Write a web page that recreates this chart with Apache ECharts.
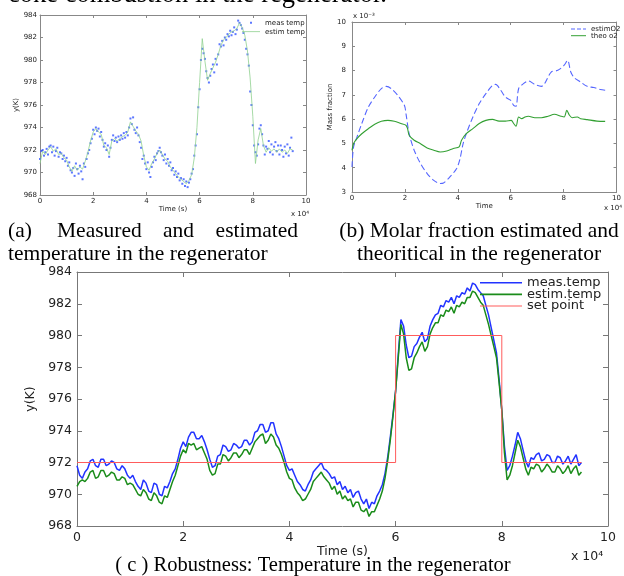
<!DOCTYPE html>
<html><head><meta charset="utf-8">
<script src="https://cdn.jsdelivr.net/npm/echarts@6/dist/echarts.min.js"></script>
<style>html,body{margin:0;padding:0;background:#fff}#c{width:624px;height:576px}</style>
</head><body><div id="c"></div>
<script>
// ---------- DATA ----------
// time in units of 10^4 s
const t10 = [0,0.1,0.2,0.3,0.4,0.5,0.6,0.7,0.8,0.9,1,1.1,1.2,1.3,1.4,1.5,1.6,1.7,1.8,1.9,2,2.1,2.2,2.3,2.4,2.5,2.6,2.7,2.8,2.9,3,3.1,3.2,3.3,3.4,3.5,3.6,3.7,3.8,3.9,4,4.1,4.2,4.3,4.4,4.5,4.6,4.7,4.8,4.9,5,5.1,5.2,5.3,5.4,5.5,5.6,5.7,5.8,5.9,6,6.1,6.2,6.3,6.4,6.5,6.6,6.7,6.8,6.9,7,7.1,7.2,7.3,7.4,7.5,7.6,7.7,7.8,7.9,8,8.1,8.2,8.3,8.4,8.5,8.6,8.7,8.8,8.9,9,9.1,9.2,9.3,9.4,9.5];
const t05 = [0,0.05,0.1,0.15,0.2,0.25,0.3,0.35,0.4,0.45,0.5,0.55,0.6,0.65,0.7,0.75,0.8,0.85,0.9,0.95,
1,1.05,1.1,1.15,1.2,1.25,1.3,1.35,1.4,1.45,1.5,1.55,1.6,1.65,1.7,1.75,1.8,1.85,1.9,1.95,
2,2.05,2.1,2.15,2.2,2.25,2.3,2.35,2.4,2.45,2.5,2.55,2.6,2.65,2.7,2.75,2.8,2.85,2.9,2.95,
3,3.05,3.1,3.15,3.2,3.25,3.3,3.35,3.4,3.45,3.5,3.55,3.6,3.65,3.7,3.75,3.8,3.85,3.9,3.95,
4,4.05,4.1,4.15,4.2,4.25,4.3,4.35,4.4,4.45,4.5,4.55,4.6,4.65,4.7,4.75,4.8,4.85,4.9,4.95,
5,5.05,5.1,5.15,5.2,5.25,5.3,5.35,5.4,5.45,5.5,5.55,5.6,5.65,5.7,5.75,5.8,5.85,5.9,5.95,
6,6.05,6.1,6.15,6.2,6.25,6.3,6.35,6.4,6.45,6.5,6.55,6.6,6.65,6.7,6.75,6.8,6.85,6.9,6.95,
7,7.05,7.1,7.15,7.2,7.25,7.3,7.35,7.4,7.45,7.5,7.55,7.6,7.65,7.7,7.75,7.8,7.85,7.9,7.95,
8,8.05,8.1,8.15,8.2,8.25,8.3,8.35,8.4,8.45,8.5,8.55,8.6,8.65,8.7,8.75,8.8,8.85,8.9,8.95,
9,9.05,9.1,9.15,9.2,9.25,9.3,9.35,9.4,9.45,9.5];

// (a) measured (dots) and estimated temperature
const measA = [971.2,971.9,972.0,971.5,971.8,972.1,971.6,972.3,972.4,971.8,972.3,971.5,971.9,972.2,971.4,971.8,971.7,971.2,971.5,971.0,
971.3,970.6,970.9,970.2,970.0,970.4,969.7,970.8,970.3,969.9,970.6,970.1,969.4,970.8,970.5,971.2,971.7,972.0,972.6,973.0,
973.8,973.4,974.0,973.7,973.9,973.2,973.6,972.9,972.3,972.6,972.0,972.4,971.4,972.2,972.9,973.3,972.8,973.1,972.7,973.2,
972.9,973.3,973.0,973.5,973.1,973.6,973.3,974.0,974.8,974.3,974.9,973.8,973.5,974.0,973.3,972.7,972.2,971.2,971.5,970.8,
970.3,970.9,970.0,969.6,970.5,970.9,971.4,971.1,971.7,971.9,972.2,971.8,971.5,971.1,971.6,970.8,971.2,970.6,970.9,970.2,
970.4,969.8,970.1,969.6,969.9,969.3,969.5,969.0,969.4,968.8,969.2,968.7,969.1,969.4,969.9,970.3,971.5,972.4,973.4,975.8,
977.4,980.0,981.0,980.6,980.1,979.0,978.4,978.0,978.6,979.2,979.6,978.9,980.1,979.6,980.5,981.4,981.2,981.7,981.3,982.0,
981.8,982.3,982.1,982.6,982.2,982.5,982.9,982.3,982.7,983.5,983.3,983.1,982.8,982.4,981.8,981.0,980.5,979.5,977.2,976.0,
974.2,972.4,971.8,971.5,972.5,973.9,974.2,973.4,972.4,971.6,972.3,972.1,972.8,971.8,972.5,971.6,972.3,972.7,971.9,972.4,
971.6,972.4,972.0,971.4,972.3,971.7,972.5,971.5,972.2,973.1,971.9];
const estimA = [970.8,971.9,971.6,972.0,972.3,971.9,972.1,971.6,971.7,971.3,
971.1,970.5,970.1,970.6,970.2,970.5,970.3,971.0,971.8,972.8,
973.6,973.9,973.6,973.4,972.4,972.2,971.6,972.8,973.0,972.8,
973.0,973.2,973.3,973.6,974.5,974.1,973.7,973.4,972.8,971.5,
970.5,970.2,970.8,971.2,971.7,972.0,971.6,971.2,971.0,970.5,
970.2,969.9,969.6,969.4,969.2,969.0,969.3,969.8,971.3,974.0,
978.0,981.9,979.9,978.2,978.8,979.3,979.8,980.5,981.3,981.8,
982.0,982.3,982.5,982.6,982.8,983.3,982.9,982.2,980.8,978.4,
975.0,970.8,972.9,973.9,972.4,971.8,972.2,971.9,972.1,971.8,
972.1,971.8,972.0,971.7,972.1,972.0];

// (b) mass fraction (x 10^-3)
const tEstO2 = [0,0.06,0.19,0.37,0.62,0.86,1.11,1.3,1.48,1.73,1.98,2.04,2.16,2.35,2.59,2.84,3.09,3.33,3.46,3.7,3.95,4.07,4.2,4.32,4.57,4.81,5.06,5.31,5.43,5.62,5.8,5.99,6.11,6.2,6.3,6.48,6.67,6.91,7.16,7.28,7.53,7.78,8.02,8.15,8.27,8.4,8.64,8.89,9.14,9.38,9.57];
const estimO2 = [4.03,4.86,5.27,5.82,6.5,6.91,7.26,7.35,7.26,6.98,6.57,6.23,5.40,4.72,4.17,3.76,3.48,3.35,3.37,3.62,3.96,4.31,4.99,5.40,6.09,6.64,7.05,7.39,7.43,7.19,6.91,6.78,6.57,6.53,7.26,7.46,7.57,7.43,7.35,7.46,7.94,8.01,8.22,8.42,7.94,7.71,7.53,7.35,7.30,7.22,7.19];
const tTheoO2 = [0,0.06,0.19,0.37,0.62,0.86,1.11,1.36,1.6,1.85,2.04,2.1,2.16,2.35,2.59,2.84,3.09,3.33,3.58,3.83,4.05,4.14,4.32,4.57,4.81,5.06,5.31,5.56,5.8,6.02,6.11,6.2,6.3,6.42,6.54,6.67,6.91,7.16,7.41,7.65,7.9,8.02,8.12,8.22,8.33,8.52,8.64,8.89,9.26,9.57];
const theoO2 = [4.72,5.0,5.2,5.40,5.61,5.79,5.91,5.95,5.91,5.82,5.75,5.61,5.34,5.13,4.99,4.81,4.72,4.65,4.69,4.79,4.86,5.13,5.40,5.61,5.82,5.95,5.99,5.92,5.92,5.95,5.82,5.71,6.09,6.02,6.09,6.12,6.06,6.06,6.12,6.20,6.12,6.09,6.36,6.16,6.06,6.09,6.02,5.98,5.92,5.91];

// (c) robustness (sampled every 0.05 x 10^4 s)
const measC = [971.8,971.2,971.0,971.4,971.6,972.1,972.2,971.8,971.7,972.2,972.2,971.8,971.9,972.1,972.0,971.6,971.5,971.8,971.6,971.2,
971.0,971.2,970.8,970.5,970.3,970.9,970.7,970.2,970.1,970.7,970.6,970.0,969.9,970.5,970.4,970.8,971.3,971.6,972.2,972.9,
973.3,973.0,973.6,973.9,973.9,973.5,973.5,973.7,973.3,972.8,972.2,971.7,971.8,972.4,972.5,973.1,973.0,972.7,972.8,973.2,
973.1,972.9,973.0,973.4,973.4,973.1,973.3,973.9,974.0,974.4,974.4,973.9,974.0,974.5,974.5,973.8,973.5,973.0,972.4,971.8,
971.5,971.6,971.2,970.8,970.6,970.3,970.2,970.6,970.9,971.4,971.6,971.8,972.0,971.6,971.5,971.3,971.0,971.1,970.6,970.8,
970.3,970.5,970.1,970.3,969.8,970.1,970.2,969.7,969.4,969.7,969.1,969.5,969.4,969.9,970.2,970.6,971.3,972.3,973.6,975.0,
976.5,978.8,981.0,980.6,979.4,978.6,978.7,979.3,979.5,979.9,980.2,979.6,979.8,980.6,981.0,981.3,981.4,981.9,981.8,982.2,
982.1,982.4,982.0,982.5,982.4,982.7,982.6,983.0,982.8,983.3,983.2,982.9,982.7,982.5,981.9,981.3,980.5,979.7,978.9,977.2,
975.3,973.0,971.5,971.8,972.4,973.1,973.9,973.5,972.8,972.1,971.7,972.3,972.2,972.5,972.6,972.1,972.2,972.5,972.4,972.0,
972.0,972.4,972.3,971.9,972.1,972.4,971.9,972.2,972.5,971.8,972.0];
const estimC = [970.5,970.8,970.9,970.8,971.0,971.4,971.5,971.0,971.1,971.5,971.5,971.1,971.2,971.4,971.3,970.9,970.9,971.1,971.0,970.6,
970.7,970.6,970.3,970.0,969.9,970.3,970.1,969.7,969.6,970.1,969.9,969.5,969.4,969.9,969.8,970.3,970.8,971.2,971.8,972.4,
972.8,972.6,973.2,973.1,973.2,972.8,972.9,973.0,972.6,972.2,971.5,971.2,971.3,971.9,971.9,972.5,972.4,972.1,972.3,972.6,
972.6,972.3,972.5,972.8,972.8,972.5,972.9,973.3,973.5,973.7,973.8,973.2,973.4,973.8,973.6,973.1,972.9,972.5,972.0,971.4,
971.0,970.9,970.4,970.1,969.9,969.6,969.7,970.0,970.3,970.8,971.0,971.2,971.4,971.1,970.9,970.7,970.3,970.5,970.0,970.2,
969.7,969.9,969.6,969.7,969.2,969.5,969.5,969.0,968.9,969.1,968.6,968.9,968.9,969.3,969.7,970.2,971.0,972.1,973.4,974.9,
976.5,978.6,980.7,980.1,978.6,977.8,977.9,978.6,978.9,979.3,979.6,979.0,979.3,980.1,980.5,980.8,980.8,981.3,981.2,981.6,
981.5,981.8,981.4,981.9,981.8,982.1,982.0,982.4,982.4,982.8,982.7,982.4,982.1,981.9,981.3,980.7,980.0,979.3,978.6,977.0,
975.3,972.6,970.9,971.2,971.8,972.6,973.4,973.0,972.3,971.6,971.2,971.7,971.6,971.9,971.8,971.4,971.6,971.9,971.7,971.4,
971.4,971.8,971.6,971.3,971.5,971.8,971.3,971.6,971.8,971.2,971.4];
const setT = [0,6,6,8,8,9.5];
const setV = [972,972,980,980,972,972];

// ---------- CHART ----------
const SANS = 'DejaVu Sans';
const SERIF = '"Liberation Serif","Times New Roman",serif';
const zip = (a,b)=>a.map((v,i)=>[v,b[i]]);

function ax(gi, pos, min, max, interval, o){
  o = o || {};
  const main = pos==='bottom'||pos==='left';
  const a = {
    type:'value', gridIndex:gi, position:pos, min:min, max:max, interval:interval,
    axisLine:{show:true, onZero:false, lineStyle:{color:o.lc||'#888', width:1}},
    axisTick:{show:true, inside:true, length:o.tl||3, lineStyle:{color:o.lc||'#888'}},
    splitLine:{show:false},
    axisLabel:{show:main, fontFamily:SANS, fontSize:o.fs||7, color:'#222', margin:o.m||3,
      showMinLabel:true, showMaxLabel:true},
  };
  if(main && o.name){
    a.name=o.name; a.nameLocation='middle'; a.nameGap=o.ng;
    a.nameTextStyle={fontFamily:SANS, fontSize:o.nfs||o.fs||7, color:'#222'};
  }
  return a;
}

const chart = echarts.init(document.getElementById('c'), null, {renderer:'canvas'});
const option = {
  animation:false,
  backgroundColor:'#ffffff',
  grid:[
    {left:40, top:15, width:266, height:180},
    {left:352, top:22, width:270, height:170},
    {left:77, top:272, width:531, height:254}
  ],
  xAxis:[
    ax(0,'bottom',0,10,2,{name:'Time (s)', ng:10}),
    ax(0,'top',0,10,2),
    ax(1,'bottom',0,10,2,{name:'Time', ng:8}),
    ax(1,'top',0,10,2),
    ax(2,'bottom',0,10,2,{fs:12.5, m:5, tl:5, lc:'#777', name:'Time (s)', ng:17}),
    ax(2,'top',0,10,2,{tl:5, lc:'#777'})
  ],
  yAxis:[
    ax(0,'left',968,984,2,{name:'y(K)', ng:18}),
    ax(0,'right',968,984,2),
    ax(1,'left',3,10,1,{name:'Mass fraction', ng:13, m:6}),
    ax(1,'right',3,10,1),
    ax(2,'left',968,984,2,{fs:12.5, m:5, tl:5, lc:'#777', name:'y(K)', ng:37}),
    ax(2,'right',968,984,2,{tl:5, lc:'#777'})
  ],
  legend:[
    {orient:'vertical', left:242, top:18.7, itemWidth:18, itemHeight:8, itemGap:1, padding:0,
     textStyle:{fontFamily:SANS, fontSize:7, color:'#222'},
     data:[{name:'meas temp', icon:'path://M0,0M18,8M8,3h2v2h-2z'},
           {name:'estim temp', icon:'path://M0,0M18,8M0,3.6h18v0.8h-18z'}]},
    {orient:'vertical', left:571, top:25.5, itemWidth:15, itemHeight:6.7, itemGap:-0.3, padding:0,
     textStyle:{fontFamily:SANS, fontSize:7, color:'#222'},
     data:[{name:'estimO2', icon:'path://M0,0M15,6.7M0,2.85h4v1h-4zM6,2.85h4v1h-4zM12,2.85h3v1h-3z'},
           {name:'theo o2', icon:'path://M0,0M15,6.7M0,2.85h15v1h-15z'}]},
    {orient:'vertical', left:480, top:276.2, itemWidth:42, itemHeight:10, itemGap:-1.3, padding:0,
     textStyle:{fontFamily:SANS, fontSize:13, color:'#222'},
     data:[{name:'meas.temp', icon:'path://M0,0M42,10M0,4.2h42v1.6h-42z'},
           {name:'estim.temp', icon:'path://M0,0M42,10M0,4.2h42v1.6h-42z'},
           {name:'set point', icon:'path://M0,0M42,10M0,4.5h42v1h-42z'}]}
  ],
  series:[
    {name:'estim temp', type:'line', xAxisIndex:0, yAxisIndex:0, symbol:'none',
     lineStyle:{color:'#8fd08f', width:0.8}, itemStyle:{color:'#8fd08f'}, data:zip(t10, estimA)},
    {name:'meas temp', type:'scatter', xAxisIndex:0, yAxisIndex:0, symbol:'rect', symbolSize:2,
     itemStyle:{color:'#3355ff'}, data:zip(t05, measA)},
    {name:'estimO2', type:'line', xAxisIndex:2, yAxisIndex:2, symbol:'none', smooth:0.3,
     lineStyle:{color:'#5566ff', width:1.1, type:[6,3]}, itemStyle:{color:'#5566ff'}, data:zip(tEstO2, estimO2)},
    {name:'theo o2', type:'line', xAxisIndex:2, yAxisIndex:2, symbol:'none', smooth:0.3,
     lineStyle:{color:'#33a033', width:1.1}, itemStyle:{color:'#33a033'}, data:zip(tTheoO2, theoO2)},
    {name:'meas.temp', type:'line', xAxisIndex:4, yAxisIndex:4, symbol:'none',
     lineStyle:{color:'#2233ff', width:1.5}, itemStyle:{color:'#2233ff'}, data:zip(t05, measC)},
    {name:'estim.temp', type:'line', xAxisIndex:4, yAxisIndex:4, symbol:'none',
     lineStyle:{color:'#1a8c1a', width:1.5}, itemStyle:{color:'#1a8c1a'}, data:zip(t05, estimC)},
    {name:'set point', type:'line', xAxisIndex:4, yAxisIndex:4, symbol:'none',
     lineStyle:{color:'#ff5c5c', width:1}, itemStyle:{color:'#ff5c5c'}, data:zip(setT, setV)}
  ],
  graphic:[
    {type:'text', left:8, top:-18, style:{text:'coke combustion in the regenerator.', font:'26.5px '+SERIF, fill:'#000'}},
    {type:'text', x:309, y:214, style:{text:'x 10⁴', font:'7px "DejaVu Sans"', fill:'#222', align:'right', verticalAlign:'middle'}},
    {type:'text', x:604, y:208, style:{text:'x 10⁴', font:'7px "DejaVu Sans"', fill:'#222', align:'left', verticalAlign:'middle'}},
    {type:'text', x:353, y:16, style:{text:'x 10⁻³', font:'7px "DejaVu Sans"', fill:'#222', align:'left', verticalAlign:'middle'}},
    {type:'text', x:571, y:556.5, style:{text:'x 10⁴', font:'12.5px "DejaVu Sans"', fill:'#222', align:'left', verticalAlign:'middle'}},
    {type:'text', x:8, y:231, style:{text:'(a)', font:'21.5px '+SERIF, fill:'#000', align:'left', verticalAlign:'middle'}},
    {type:'text', x:57, y:231, style:{text:'Measured', font:'21.5px '+SERIF, fill:'#000', align:'left', verticalAlign:'middle'}},
    {type:'text', x:163, y:231, style:{text:'and', font:'21.5px '+SERIF, fill:'#000', align:'left', verticalAlign:'middle'}},
    {type:'text', x:298, y:231, style:{text:'estimated', font:'21.5px '+SERIF, fill:'#000', align:'right', verticalAlign:'middle'}},
    {type:'text', x:8, y:254.5, style:{text:'temperature in the regenerator', font:'21.5px '+SERIF, fill:'#000', align:'left', verticalAlign:'middle'}},
    {type:'text', x:479, y:231, style:{text:'(b) Molar fraction estimated and', font:'21.5px '+SERIF, fill:'#000', align:'center', verticalAlign:'middle'}},
    {type:'text', x:479, y:254.5, style:{text:'theoritical in the regenerator', font:'21.5px '+SERIF, fill:'#000', align:'center', verticalAlign:'middle'}},
    {type:'text', x:313, y:566, style:{text:'( c ) Robustness: Temperature in the regenerator', font:'20.5px '+SERIF, fill:'#000', align:'center', verticalAlign:'middle'}}
  ]
};
chart.setOption(option);
</script></body></html>
